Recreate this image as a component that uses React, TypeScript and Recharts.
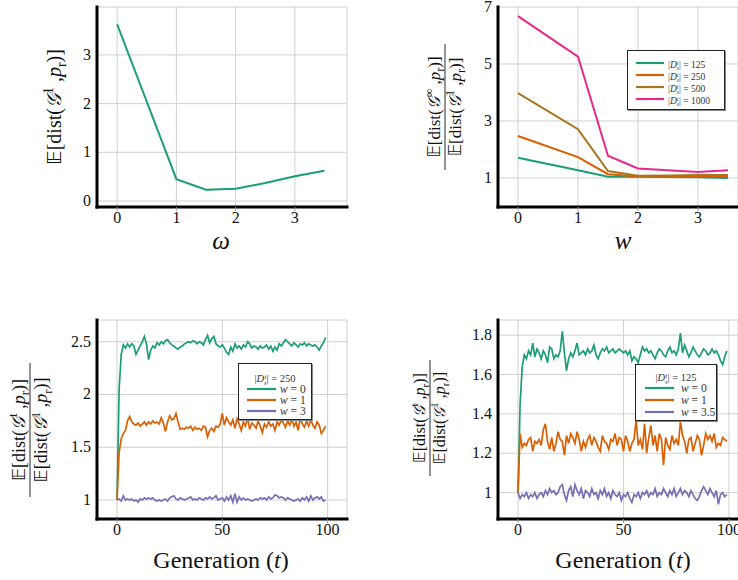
import React from 'react';
import { LineChart, Line, XAxis, YAxis, CartesianGrid, Legend } from 'recharts';

// ---------- data ----------
const omegaValues = [0, 1, 1.5, 2, 2.5, 3, 3.5];
const firstGenDist = [3.63, 0.45, 0.23, 0.25, 0.37, 0.51, 0.62];

const wValues = [0, 1, 1.5, 2, 2.5, 3, 3.5];
const ratioSize125 = [1.71, 1.27, 1.04, 1.04, 1.03, 1.02, 1.0];
const ratioSize250 = [2.47, 1.73, 1.13, 1.05, 1.05, 1.05, 1.06];
const ratioSize500 = [3.98, 2.71, 1.24, 1.08, 1.09, 1.1, 1.1];
const ratioSize1000 = [6.68, 5.26, 1.78, 1.33, 1.27, 1.21, 1.27];
const sizeLabels = ['125', '250', '500', '1000'];

const size250W0 = [
  1.0, 2.05, 2.38, 2.47, 2.44, 2.48, 2.45, 2.48, 2.46, 2.38, 2.42, 2.46, 2.5, 2.55, 2.48, 2.33, 2.42, 2.46, 2.44, 2.49,
  2.47, 2.5, 2.48, 2.51, 2.52, 2.49, 2.47, 2.46, 2.44, 2.43, 2.45, 2.46, 2.48, 2.49, 2.5, 2.49, 2.51, 2.5, 2.48, 2.5,
  2.49, 2.47, 2.52, 2.56, 2.49, 2.53, 2.55, 2.48, 2.46, 2.45, 2.47, 2.44, 2.4, 2.38, 2.45, 2.41, 2.48, 2.44, 2.46, 2.43,
  2.47, 2.45, 2.5, 2.48, 2.44, 2.46, 2.45, 2.43, 2.46, 2.44, 2.45, 2.47, 2.43, 2.46, 2.41, 2.45, 2.42, 2.48, 2.46, 2.49,
  2.52, 2.5, 2.48, 2.46, 2.49, 2.47, 2.45, 2.48, 2.47, 2.49, 2.46, 2.48, 2.47, 2.46, 2.47, 2.45, 2.42, 2.46, 2.49, 2.54,
];
const size250W1 = [
  1.0, 1.45, 1.58, 1.63, 1.66, 1.75, 1.79, 1.74, 1.72, 1.71, 1.73, 1.7, 1.72, 1.74, 1.71, 1.74, 1.72, 1.75, 1.73, 1.74,
  1.72, 1.78, 1.73, 1.65, 1.74, 1.8, 1.76, 1.77, 1.82, 1.74, 1.67, 1.68, 1.67, 1.69, 1.68, 1.7, 1.66, 1.69, 1.67, 1.68,
  1.66, 1.7, 1.69, 1.6, 1.66, 1.68, 1.65, 1.7, 1.69, 1.72, 1.82, 1.71, 1.78, 1.74, 1.71, 1.76, 1.68, 1.77, 1.72, 1.66,
  1.74, 1.7, 1.78, 1.67, 1.73, 1.71, 1.68, 1.75, 1.7, 1.64, 1.72, 1.69, 1.74, 1.7, 1.72, 1.66, 1.74, 1.71, 1.76, 1.73,
  1.69, 1.75, 1.71, 1.77, 1.7, 1.74, 1.66, 1.78, 1.72, 1.69, 1.75, 1.7, 1.76, 1.71, 1.68, 1.74, 1.71, 1.63, 1.66, 1.7,
];
const size250W3 = [
  1.0, 1.01, 0.99, 1.04, 1.0, 1.01, 1.0, 1.01, 0.99, 1.0, 0.98, 1.01, 1.0, 1.02, 1.01, 1.02, 1.01, 1.02, 1.0, 0.99,
  1.0, 0.99, 1.0, 1.01, 0.99, 1.02, 1.03, 1.04, 1.01, 1.0, 1.02, 1.01, 1.0, 1.01, 1.02, 1.03, 1.0, 1.01, 1.0, 1.02,
  1.01, 1.0, 1.02, 1.01, 1.03, 1.01, 1.02, 1.04, 1.0, 1.01, 1.02, 0.99, 1.03, 1.0, 1.04, 0.98, 1.06, 0.98, 1.03, 1.0,
  1.02, 1.0, 1.01, 1.0, 0.99, 1.0, 1.01, 1.0, 1.02, 1.01, 1.02, 1.0, 1.03, 1.01, 1.02, 1.05, 1.04, 1.02, 1.03, 1.02,
  1.0, 1.02, 1.01, 1.0, 0.99, 1.0, 1.01, 0.99, 1.02, 1.0, 1.03, 0.99, 1.04, 1.0, 1.02, 1.03, 1.01, 1.03, 0.99, 1.0,
];

const size125W0 = [
  1.0, 1.45, 1.64, 1.7, 1.68, 1.72, 1.7, 1.76, 1.69, 1.73, 1.71, 1.68, 1.72, 1.7, 1.66, 1.74, 1.73, 1.68, 1.7, 1.69,
  1.72, 1.82, 1.71, 1.62, 1.68, 1.71, 1.69, 1.72, 1.76, 1.7, 1.71, 1.72, 1.7, 1.73, 1.71, 1.72, 1.75, 1.7, 1.68, 1.71,
  1.73, 1.72, 1.74, 1.71, 1.72, 1.73, 1.71, 1.72, 1.73, 1.72, 1.71, 1.72, 1.7, 1.72, 1.67, 1.69, 1.68, 1.66, 1.7, 1.74,
  1.72, 1.73, 1.71, 1.72, 1.7, 1.68, 1.71, 1.73, 1.72, 1.7, 1.69, 1.72, 1.74, 1.71, 1.72, 1.7, 1.73, 1.81, 1.71, 1.75,
  1.72, 1.69, 1.71, 1.74, 1.72, 1.7, 1.69, 1.71, 1.73, 1.72, 1.7, 1.71, 1.73, 1.71, 1.72, 1.7, 1.67, 1.65, 1.69, 1.72,
];
const size125W1 = [
  1.0, 1.3, 1.23, 1.25, 1.24, 1.27, 1.28, 1.21, 1.26, 1.25, 1.27, 1.24, 1.32, 1.35, 1.26, 1.22, 1.28, 1.21, 1.25, 1.31,
  1.27, 1.26, 1.19, 1.29, 1.25, 1.3, 1.28, 1.25, 1.31, 1.27, 1.21, 1.26, 1.23, 1.27, 1.29, 1.24, 1.28, 1.26, 1.23, 1.21,
  1.29, 1.26, 1.25, 1.22, 1.27, 1.26, 1.3, 1.24, 1.28, 1.27, 1.21, 1.29, 1.26, 1.21, 1.25, 1.27, 1.37, 1.24, 1.27, 1.22,
  1.35, 1.2, 1.28, 1.34, 1.24, 1.29, 1.21, 1.3, 1.27, 1.14, 1.28, 1.24, 1.22, 1.29, 1.25, 1.27, 1.24, 1.36, 1.29, 1.26,
  1.2, 1.27, 1.28, 1.21, 1.25, 1.29, 1.27, 1.19, 1.24, 1.3, 1.27, 1.29, 1.26, 1.3, 1.23, 1.25, 1.24, 1.28, 1.27, 1.26,
];
const size125W35 = [
  1.0, 0.97, 0.99, 0.98, 1.0, 0.97, 0.99, 0.98, 1.0, 0.97, 0.99, 1.0, 0.98, 1.01, 0.99, 1.02, 1.0, 1.01, 0.99, 1.0,
  1.03, 1.04, 0.99, 0.96, 1.01, 1.03, 0.98, 1.04, 1.01, 0.99, 1.02, 0.97, 1.01, 1.0, 0.98, 1.02, 0.99, 1.0, 0.97, 1.01,
  0.99, 1.02, 0.98, 1.0, 0.97, 1.01, 0.99, 0.98, 1.0, 0.96, 0.99, 0.98, 1.0, 0.97, 0.95, 0.99, 0.98, 1.0, 0.97, 1.0,
  0.99, 1.01, 0.98, 1.0, 0.99, 1.02, 0.98, 1.0, 0.99, 1.02, 1.0, 0.98, 1.01, 0.99, 1.02, 0.98, 1.0, 1.02, 0.99, 1.01,
  1.0, 0.98, 1.01, 0.99, 0.97, 0.96, 0.98, 1.01, 1.03, 1.01, 0.99, 1.02, 1.0, 0.98, 1.01, 0.94, 0.99, 1.0, 0.98, 0.99,
];
const generations = size250W0.map((_, i) => i);

const topLeftTicksX = [0, 1, 2, 3];
const topLeftTicksY = [0, 1, 2, 3];
const topRightTicksY = [1, 3, 5, 7];
const genTicks = [0, 50, 100];
const left250TicksY = [1, 1.5, 2, 2.5];
const right125TicksY = [1, 1.2, 1.4, 1.6, 1.8];

// ---------- tables ----------
const topLeftRows = omegaValues.map((w, i) => ({ w, dist: firstGenDist[i] }));
const topRightRows = wValues.map((w, i) => ({
  w,
  s125: ratioSize125[i],
  s250: ratioSize250[i],
  s500: ratioSize500[i],
  s1000: ratioSize1000[i],
}));
const left250Rows = generations.map((t, i) => ({ t, a: size250W0[i], b: size250W1[i], c: size250W3[i] }));
const right125Rows = generations.map((t, i) => ({ t, a: size125W0[i], b: size125W1[i], c: size125W35[i] }));

// ---------- style ----------
const SERIF = 'Liberation Serif';
const MATHF = 'DejaVu Sans';
const GREEN = '#1b9e77';
const ORANGE = '#d95f02';
const BROWN = '#a6761d';
const PINK = '#e7298a';
const PURPLE = '#7570b3';
const GRID = '#d0d0d0';
const AXIS = { stroke: '#000', strokeWidth: 3, strokeLinecap: 'square' as const };

function XTick(props: any) {
  const { x, y, payload } = props;
  return (
    <text x={x} y={y} dy={11.5} textAnchor="middle" fontFamily={SERIF} fontSize={16} fill="#111" style={{ fontFamily: SERIF }}>
      {payload.value}
    </text>
  );
}
function YTick(props: any) {
  const { x, y, payload } = props;
  return (
    <text x={x} y={y} dy={5} textAnchor="end" fontFamily={SERIF} fontSize={16} fill="#111" style={{ fontFamily: SERIF }}>
      {payload.value}
    </text>
  );
}

function Expr({ sup, fs }: { sup: string; fs: number }) {
  const s = Math.round(fs * 0.7);
  const up = fs * 0.42;
  const dn = fs * 0.25;
  return (
    <>
      <tspan fontFamily={MATHF}>𝔼</tspan>
      <tspan>[dist(</tspan>
      <tspan fontStyle="italic">𝒢</tspan>
      <tspan fontSize={s} dy={-up}>{sup}</tspan>
      <tspan dy={up}> ,</tspan>
      <tspan fontStyle="italic">p</tspan>
      <tspan fontSize={s} dy={dn}>r</tspan>
      <tspan dy={-dn}>)]</tspan>
    </>
  );
}

function FracLabel({ cx, cy, fs, len, top }: { cx: number; cy: number; fs: number; len: number; top: string }) {
  return (
    <g transform={`translate(${cx},${cy}) rotate(-90)`} fontSize={fs} fill="#111" style={{ fontFamily: SERIF }}>
      <text x={0} y={-fs * 0.3} textAnchor="middle" fontFamily={SERIF}>
        <Expr sup={top} fs={fs} />
      </text>
      <line x1={-len / 2} x2={len / 2} y1={0} y2={0} stroke="#111" strokeWidth={0.9} />
      <text x={0} y={fs * 0.95} textAnchor="middle" fontFamily={SERIF}>
        <Expr sup="1" fs={fs} />
      </text>
    </g>
  );
}

function SizeText({ n, fs }: { n: string; fs: number }) {
  return (
    <span style={{ fontSize: fs, whiteSpace: 'nowrap', fontFamily: SERIF }}>
      |<i>D</i>
      <span
        style={{
          display: 'inline-flex',
          flexDirection: 'column',
          fontSize: fs * 0.6,
          lineHeight: 0.9,
          verticalAlign: 'middle',
          fontStyle: 'italic',
        }}
      >
        <span>t</span>
        <span>s</span>
      </span>
      | = {n}
    </span>
  );
}

function LineSample({ color, w, sw }: { color: string; w: number; sw: number }) {
  return (
    <svg width={w} height={6} style={{ display: 'block' }}>
      <line x1={0} x2={w} y1={3} y2={3} stroke={color} strokeWidth={sw} />
    </svg>
  );
}

const boxStyle: React.CSSProperties = {
  position: 'relative',
  background: '#fff',
  border: '1px solid #222',
  boxShadow: '1px 1px 0 #888',
  boxSizing: 'border-box',
  color: '#333',
};

const topRightColors = [GREEN, ORANGE, BROWN, PINK];

function TopRightLegend() {
  return (
    <div style={{ ...boxStyle, width: 98, height: 60 }}>
      {sizeLabels.map((n, i) => (
        <div
          key={n}
          style={{ position: 'absolute', left: 8, top: 6 + i * 12.1, height: 12, display: 'flex', alignItems: 'center' }}
        >
          <LineSample color={topRightColors[i]} w={28} sw={2.2} />
          <div style={{ marginLeft: 4 }}>
            <SizeText n={n} fs={9.5} />
          </div>
        </div>
      ))}
    </div>
  );
}

function GenLegend({
  width,
  title,
  labels,
  rowTops,
  titleTop,
  lineLeft,
  textLeft,
}: {
  width: number;
  title: string;
  labels: string[];
  rowTops: number[];
  titleTop: number;
  lineLeft: number;
  textLeft: number;
}) {
  const colors = [GREEN, ORANGE, PURPLE];
  return (
    <div style={{ ...boxStyle, width, height: 57 }}>
      <div style={{ position: 'absolute', left: 0, width: '100%', top: titleTop, textAlign: 'center', lineHeight: '12px' }}>
        <SizeText n={title} fs={10.5} />
      </div>
      {labels.map((lab, i) => (
        <div key={lab} style={{ position: 'absolute', left: 0, top: rowTops[i], height: 12, width: '100%' }}>
          <div style={{ position: 'absolute', left: lineLeft, top: 3 }}>
            <LineSample color={colors[i]} w={29} sw={2.2} />
          </div>
          <div
            style={{
              position: 'absolute',
              left: textLeft,
              top: 0,
              lineHeight: '12px',
              fontSize: 11.5,
              fontFamily: SERIF,
              whiteSpace: 'nowrap',
            }}
          >
            <i>w</i> = {lab}
          </div>
        </div>
      ))}
    </div>
  );
}

const legendProps = { layout: 'vertical' as const, align: 'center' as const, verticalAlign: 'middle' as const };

export default function App() {
  return (
    <div
      style={{ position: 'absolute', left: 0, top: 0, width: 738, height: 580, overflow: 'hidden', background: '#fff', fontFamily: SERIF }}
    >
      {/* top-left */}
      <div style={{ position: 'absolute', left: 0, top: 0 }}>
        <LineChart width={360} height={260} data={topLeftRows} margin={{ top: 7, right: 13, bottom: 0, left: 0 }}>
          <CartesianGrid stroke={GRID} strokeWidth={1} />
          <XAxis
            type="number"
            dataKey="w"
            domain={[-0.34, 3.88]}
            allowDataOverflow
            ticks={topLeftTicksX}
            interval={0}
            height={53}
            axisLine={AXIS}
            tickLine={{ stroke: '#999' }}
            tickSize={4}
            tickMargin={0}
            tick={<XTick />}
            label={{
              content: () => (
                <text x={221} y={249} textAnchor="middle" fontFamily={SERIF} fontStyle="italic" fontSize={25} fill="#111">
                  ω
                </text>
              ),
            }}
          />
          <YAxis
            type="number"
            domain={[-0.123, 3.984]}
            allowDataOverflow
            ticks={topLeftTicksY}
            interval={0}
            width={97}
            axisLine={AXIS}
            tickLine={false}
            tickSize={0}
            tickMargin={6}
            tick={<YTick />}
            label={{
              content: () => (
                <g transform="translate(61,107) rotate(-90)" fontSize={20} fill="#111">
                  <text x={0} y={0} textAnchor="middle" fontFamily={SERIF}>
                    <Expr sup="1" fs={20} />
                  </text>
                </g>
              ),
            }}
          />
          <Line dataKey="dist" stroke={GREEN} strokeWidth={2} dot={false} isAnimationActive={false} />
        </LineChart>
      </div>

      {/* top-right */}
      <div style={{ position: 'absolute', left: 369, top: 0 }}>
        <LineChart width={369} height={260} data={topRightRows} margin={{ top: 7, right: 0, bottom: 0, left: 0 }}>
          <CartesianGrid stroke={GRID} strokeWidth={1} />
          <XAxis
            type="number"
            dataKey="w"
            domain={[-0.333, 3.667]}
            allowDataOverflow
            ticks={topLeftTicksX}
            interval={0}
            height={53}
            axisLine={AXIS}
            tickLine={{ stroke: '#999' }}
            tickSize={4}
            tickMargin={0}
            tick={<XTick />}
            label={{
              content: () => (
                <text x={254} y={249} textAnchor="middle" fontFamily={SERIF} fontStyle="italic" fontSize={25} fill="#111">
                  w
                </text>
              ),
            }}
          />
          <YAxis
            type="number"
            domain={[-0.02, 7]}
            allowDataOverflow
            ticks={topRightTicksY}
            interval={0}
            width={129}
            axisLine={AXIS}
            tickLine={false}
            tickSize={0}
            tickMargin={6}
            tick={<YTick />}
            label={{ content: () => <FracLabel cx={76} cy={107} fs={17} len={126} top="∞" /> }}
          />
          <Legend {...legendProps} wrapperStyle={{ left: 258, top: 50, width: 98, height: 60 }} content={() => <TopRightLegend />} />
          <Line dataKey="s125" name="125" stroke={GREEN} strokeWidth={2} dot={false} isAnimationActive={false} />
          <Line dataKey="s250" name="250" stroke={ORANGE} strokeWidth={2} dot={false} isAnimationActive={false} />
          <Line dataKey="s500" name="500" stroke={BROWN} strokeWidth={2} dot={false} isAnimationActive={false} />
          <Line dataKey="s1000" name="1000" stroke={PINK} strokeWidth={2} dot={false} isAnimationActive={false} />
        </LineChart>
      </div>

      {/* bottom-left */}
      <div style={{ position: 'absolute', left: 0, top: 300 }}>
        <LineChart width={360} height={280} data={left250Rows} margin={{ top: 20, right: 13, bottom: 0, left: 0 }}>
          <CartesianGrid stroke={GRID} strokeWidth={1} />
          <XAxis
            type="number"
            dataKey="t"
            domain={[-9.5, 109.2]}
            allowDataOverflow
            ticks={genTicks}
            interval={0}
            height={61}
            axisLine={AXIS}
            tickLine={{ stroke: '#999' }}
            tickSize={4}
            tickMargin={0}
            tick={<XTick />}
            label={{
              content: () => (
                <text x={221} y={268} textAnchor="middle" fontFamily={SERIF} fontSize={24} fill="#111">
                  Generation (<tspan fontStyle="italic">t</tspan>)
                </text>
              ),
            }}
          />
          <YAxis
            type="number"
            domain={[0.82, 2.706]}
            allowDataOverflow
            ticks={left250TicksY}
            interval={0}
            width={97}
            axisLine={AXIS}
            tickLine={false}
            tickSize={0}
            tickMargin={6}
            tick={<YTick />}
            label={{ content: () => <FracLabel cx={30} cy={130} fs={18} len={134} top="t" /> }}
          />
          <Line dataKey="a" name="w = 0" stroke={GREEN} strokeWidth={1.7} dot={false} isAnimationActive={false} />
          <Line dataKey="b" name="w = 1" stroke={ORANGE} strokeWidth={1.7} dot={false} isAnimationActive={false} />
          <Line dataKey="c" name="w = 3" stroke={PURPLE} strokeWidth={1.7} dot={false} isAnimationActive={false} />
          <Legend
            {...legendProps}
            wrapperStyle={{ left: 238, top: 63, width: 74, height: 57 }}
            content={() => (
              <GenLegend
                width={74}
                title="250"
                labels={['0', '1', '3']}
                titleTop={7}
                rowTops={[19, 30, 41]}
                lineLeft={8}
                textLeft={41}
              />
            )}
          />
        </LineChart>
      </div>

      {/* bottom-right */}
      <div style={{ position: 'absolute', left: 369, top: 300 }}>
        <LineChart width={369} height={280} data={right125Rows} margin={{ top: 20, right: 0, bottom: 0, left: 0 }}>
          <CartesianGrid stroke={GRID} strokeWidth={1} />
          <XAxis
            type="number"
            dataKey="t"
            domain={[-9.48, 104.3]}
            allowDataOverflow
            ticks={genTicks}
            interval={0}
            height={61}
            axisLine={AXIS}
            tickLine={{ stroke: '#999' }}
            tickSize={4}
            tickMargin={0}
            tick={<XTick />}
            label={{
              content: () => (
                <text x={254} y={268} textAnchor="middle" fontFamily={SERIF} fontSize={24} fill="#111">
                  Generation (<tspan fontStyle="italic">t</tspan>)
                </text>
              ),
            }}
          />
          <YAxis
            type="number"
            domain={[0.866, 1.877]}
            allowDataOverflow
            ticks={right125TicksY}
            interval={0}
            width={129}
            axisLine={AXIS}
            tickLine={false}
            tickSize={0}
            tickMargin={6}
            tick={<YTick />}
            label={{ content: () => <FracLabel cx={61} cy={118} fs={16} len={116} top="t" /> }}
          />
          <Line dataKey="a" name="w = 0" stroke={GREEN} strokeWidth={1.7} dot={false} isAnimationActive={false} />
          <Line dataKey="b" name="w = 1" stroke={ORANGE} strokeWidth={1.7} dot={false} isAnimationActive={false} />
          <Line dataKey="c" name="w = 3.5" stroke={PURPLE} strokeWidth={1.7} dot={false} isAnimationActive={false} />
          <Legend
            {...legendProps}
            wrapperStyle={{ left: 266, top: 64, width: 82, height: 57 }}
            content={() => (
              <GenLegend
                width={82}
                title="125"
                labels={['0', '1', '3.5']}
                titleTop={5}
                rowTops={[17, 29, 41]}
                lineLeft={9}
                textLeft={45}
              />
            )}
          />
        </LineChart>
      </div>
    </div>
  );
}
